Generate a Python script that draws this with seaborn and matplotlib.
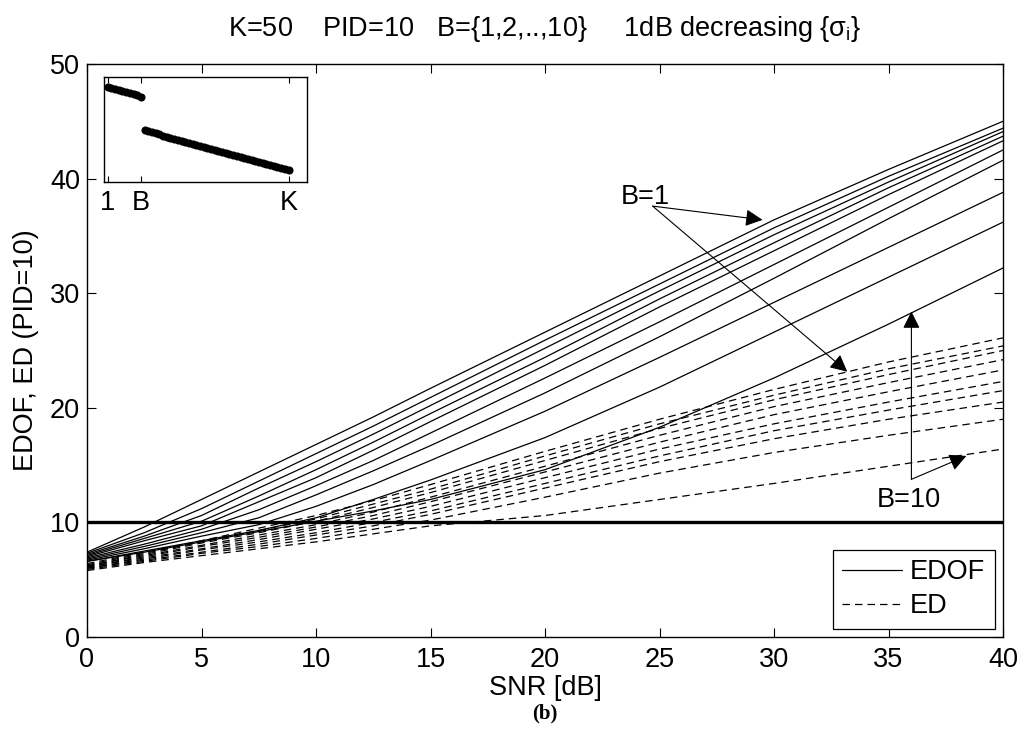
import numpy as np
import pandas as pd
import matplotlib
matplotlib.use("Agg")
import matplotlib.pyplot as plt
from matplotlib.lines import Line2D
import seaborn as sns

# ---------------- data ----------------
snr_db = [0, 2.5, 5, 7.5, 10, 12.5, 15, 20, 25, 30, 35, 40]
b_values = [1, 2, 3, 4, 5, 6, 7, 8, 9, 10]

edof_b1 = [7.4, 9.6, 12.0, 14.4, 16.8, 19.2, 21.7, 26.6, 31.5, 36.4, 40.8, 45.0]
edof_b2 = [7.3, 9.1, 11.2, 13.6, 16.0, 18.4, 20.9, 25.9, 30.8, 35.7, 40.2, 44.4]
edof_b3 = [7.2, 8.8, 10.6, 13.0, 15.3, 17.7, 20.2, 25.2, 30.2, 35.1, 39.7, 44.1]
edof_b4 = [7.1, 8.6, 10.1, 12.3, 14.6, 17.0, 19.5, 24.4, 29.5, 34.4, 39.2, 43.7]
edof_b5 = [7.0, 8.4, 9.7, 11.8, 13.9, 16.3, 18.8, 23.7, 28.8, 33.7, 38.6, 43.3]
edof_b6 = [6.9, 8.1, 9.4, 11.1, 13.2, 15.4, 17.8, 22.6, 27.5, 32.5, 37.5, 42.5]
edof_b7 = [6.8, 7.9, 9.1, 10.4, 12.4, 14.5, 16.7, 21.3, 26.2, 31.3, 36.5, 41.6]
edof_b8 = [6.7, 7.7, 8.8, 9.8, 11.4, 13.3, 15.4, 19.7, 24.4, 29.2, 34.0, 38.8]
edof_b9 = [6.6, 7.5, 8.4, 9.3, 10.4, 12.0, 13.7, 17.4, 21.8, 26.6, 31.4, 36.2]
edof_b10 = [6.6, 7.4, 8.3, 9.2, 10.1, 11.0, 12.0, 14.6, 18.3, 22.6, 27.3, 32.2]

ed_b1 = [6.4, 7.4, 8.4, 9.5, 10.6, 11.9, 13.3, 16.2, 19.0, 21.6, 24.0, 26.1]
ed_b2 = [6.3, 7.3, 8.3, 9.3, 10.3, 11.6, 12.9, 15.8, 18.6, 21.1, 23.4, 25.4]
ed_b3 = [6.2, 7.2, 8.2, 9.1, 10.1, 11.3, 12.6, 15.4, 18.2, 20.7, 22.9, 25.0]
ed_b4 = [6.2, 7.1, 8.0, 8.9, 9.8, 10.9, 12.2, 14.9, 17.6, 20.1, 22.2, 24.2]
ed_b5 = [6.1, 7.0, 7.9, 8.7, 9.6, 10.6, 11.8, 14.4, 17.0, 19.4, 21.4, 23.3]
ed_b6 = [6.1, 6.9, 7.7, 8.5, 9.4, 10.3, 11.4, 13.9, 16.4, 18.6, 20.5, 22.3]
ed_b7 = [6.0, 6.8, 7.6, 8.3, 9.1, 10.0, 11.0, 13.4, 15.8, 18.0, 19.8, 21.5]
ed_b8 = [6.0, 6.7, 7.4, 8.1, 8.9, 9.7, 10.7, 13.0, 15.3, 17.3, 19.0, 20.5]
ed_b9 = [5.9, 6.6, 7.3, 7.9, 8.6, 9.4, 10.2, 12.2, 14.3, 16.1, 17.6, 19.0]
ed_b10 = [5.8, 6.5, 7.1, 7.7, 8.3, 9.0, 9.7, 10.6, 12.0, 13.4, 14.9, 16.4]

pid = 10

# inset: singular-value profile (dB), index 1..K
inset_index = list(range(1, 51))
inset_sigma_db = [0, -1, -2, -3, -4, -5, -6, -7, -8, -9,
                  -42, -43, -44, -45, -46, -47, -48, -49, -50, -51,
                  -52, -53, -54, -55, -56, -57, -58, -59, -60, -61,
                  -62, -63, -64, -65, -66, -67, -68, -69, -70, -71,
                  -72, -73, -74, -75, -76, -77, -78, -79, -80, -81]
inset_ticks = [1, 10, 50]
inset_ticklabels = ["1", "B", "K"]

title_text = r"K=50    PID=10   B={1,2,..,10}     1dB decreasing {$\mathrm{\sigma_i}$}"

# ---------------- style ----------------
sns.set_style("ticks", rc={
    "axes.edgecolor": "black", "axes.labelcolor": "black",
    "text.color": "black", "xtick.color": "black", "ytick.color": "black",
    "axes.linewidth": 1.0,
})
plt.rcParams["font.family"] = ["Liberation Sans", "DejaVu Sans"]
plt.rcParams["mathtext.fontset"] = "custom"
plt.rcParams["mathtext.rm"] = "Liberation Sans"
plt.rcParams["mathtext.it"] = "Liberation Sans:italic"

FS = 19.5

edof_rows = [edof_b1, edof_b2, edof_b3, edof_b4, edof_b5,
             edof_b6, edof_b7, edof_b8, edof_b9, edof_b10]
ed_rows = [ed_b1, ed_b2, ed_b3, ed_b4, ed_b5,
           ed_b6, ed_b7, ed_b8, ed_b9, ed_b10]

records = []
for b, row in zip(b_values, edof_rows):
    for s, v in zip(snr_db, row):
        records.append({"SNR": s, "value": v, "B": b, "kind": "EDOF"})
for b, row in zip(b_values, ed_rows):
    for s, v in zip(snr_db, row):
        records.append({"SNR": s, "value": v, "B": b, "kind": "ED"})
df = pd.DataFrame(records)

fig = plt.figure(figsize=(10.3, 7.46), dpi=100)
ax = fig.add_axes([87 / 1030, 109 / 746, 916 / 1030, 573 / 746])

sns.lineplot(data=df, x="SNR", y="value", hue="B", style="kind",
             palette=["black"] * len(b_values),
             dashes={"EDOF": "", "ED": (6, 4)},
             estimator=None, sort=False, legend=False, lw=0.9, ax=ax)

ax.axhline(pid, color="black", lw=2.4)

ax.set_xlim(0, 40)
ax.set_ylim(0, 50)
ax.set_xticks([0, 5, 10, 15, 20, 25, 30, 35, 40])
ax.set_yticks([0, 10, 20, 30, 40, 50])
ax.tick_params(direction="in", length=6.5, width=0.8, top=True, right=True,
               labelsize=FS)
ax.tick_params(axis="x", pad=7)
ax.tick_params(axis="y", pad=5)
for sp in ax.spines.values():
    sp.set_visible(True)
    sp.set_linewidth(1.0)

ax.set_xlabel("SNR [dB]", fontsize=FS, labelpad=1.5)
ax.set_ylabel("EDOF, ED (PID=10)", fontsize=FS, labelpad=8)
ax.set_title(title_text, fontsize=FS, pad=20.5)

# annotations
arrow_kw = dict(arrowstyle="-|>", color="black", lw=0.8,
                mutation_scale=26, shrinkA=0, shrinkB=0)
ax.text(24.4, 38.4, "B=1", fontsize=FS, ha="center", va="center")
ax.annotate("", xy=(29.5, 36.4), xytext=(24.7, 37.6), arrowprops=arrow_kw)
ax.annotate("", xy=(33.2, 23.15), xytext=(24.7, 37.6), arrowprops=arrow_kw)
ax.text(35.9, 11.95, "B=10", fontsize=FS, ha="center", va="center")
ax.annotate("", xy=(36.0, 28.4), xytext=(36.0, 13.76), arrowprops=arrow_kw)
ax.annotate("", xy=(38.4, 15.8), xytext=(36.0, 13.76), arrowprops=arrow_kw)

handles = [Line2D([], [], color="black", lw=0.9, ls="-"),
           Line2D([], [], color="black", lw=0.9, ls=(0, (6, 4)))]
leg = ax.legend(handles, ["EDOF", "ED"], loc="lower right", fontsize=FS,
                frameon=True, fancybox=False, framealpha=1,
                edgecolor="black", borderaxespad=0.3, handlelength=2.2,
                handletextpad=0.3, labelspacing=0.3, borderpad=0.35)
leg.get_frame().set_linewidth(0.9)

fig.text(545 / 1030, 1 - 713 / 746, "(b)", fontsize=15, fontweight="bold",
         family="Liberation Serif", ha="center", va="center")

# inset
axi = fig.add_axes([104 / 1030, 1 - 181.7 / 746, 203 / 1030, 104.7 / 746])
sns.scatterplot(x=inset_index, y=inset_sigma_db, color="black", s=34,
                edgecolor="black", linewidth=0, ax=axi, legend=False)
axi.set_xlim(0, 55)
axi.set_ylim(-92, 10)
axi.set_xticks(inset_ticks)
axi.set_xticklabels(inset_ticklabels)
axi.set_yticks([])
axi.tick_params(direction="in", length=4, width=0.8, top=True,
                labelsize=FS, pad=6)
for sp in axi.spines.values():
    sp.set_visible(True)
    sp.set_linewidth(1.0)

fig.savefig("out.png", dpi=100)
